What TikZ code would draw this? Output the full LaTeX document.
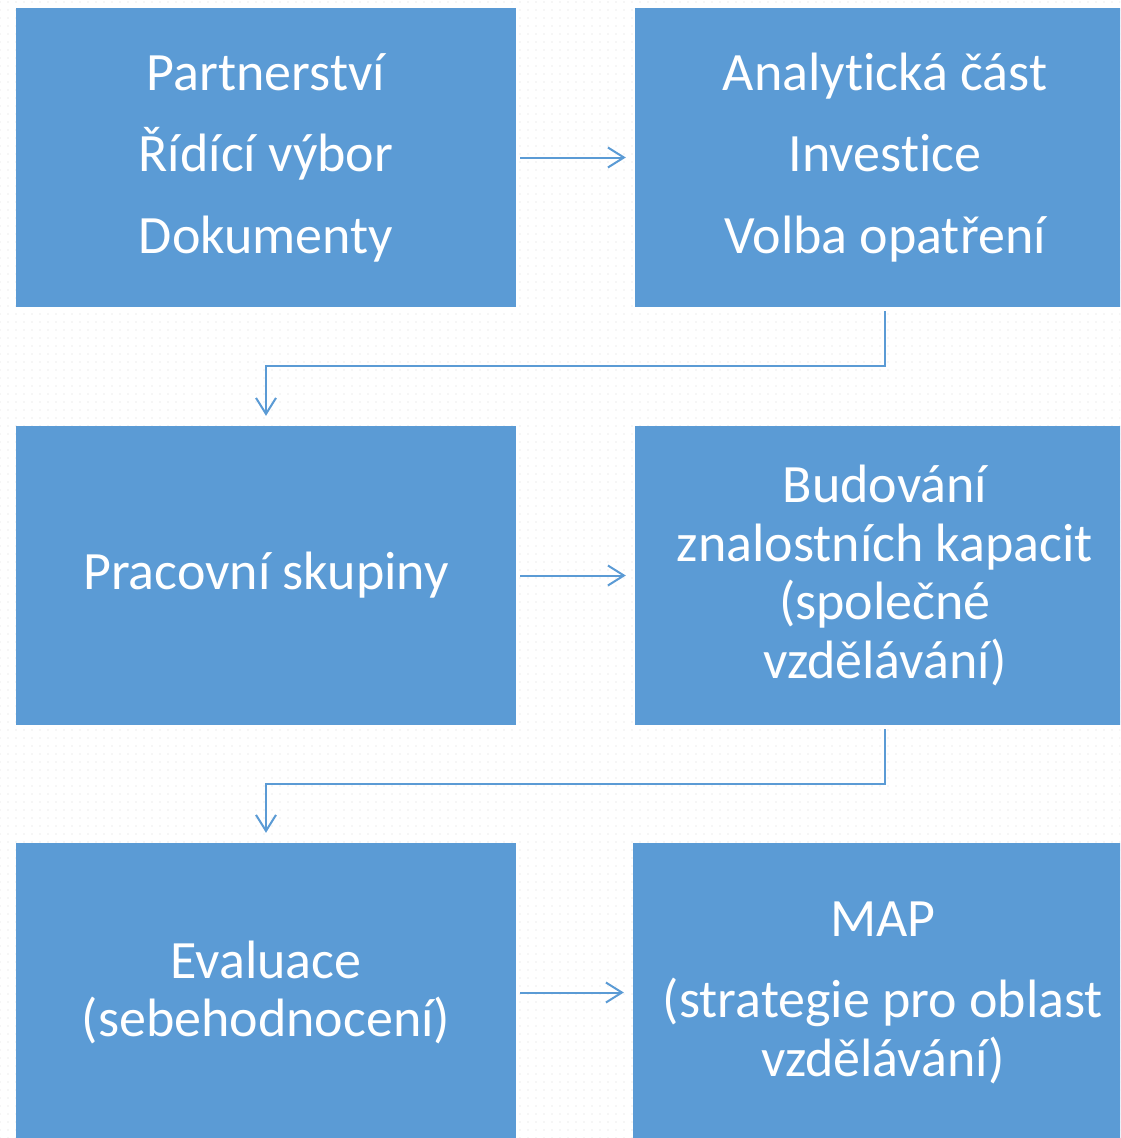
\documentclass[tikz,border=0pt]{standalone}
\usepackage{fontspec}
\setmainfont{Carlito}[Ligatures=CommonOff]
\usetikzlibrary{arrows.meta,patterns.meta}
\definecolor{boxblue}{HTML}{5B9BD5}
\begin{document}
\begin{tikzpicture}[x=1pt,y=-1pt,
  box/.style={fill=boxblue, draw=none, minimum width=500pt, minimum height=299pt,
    inner sep=0pt, text=white, align=center, font=\fontsize{54}{58.5}\selectfont},
  conn/.style={draw=boxblue, line width=2pt, -{Straight Barb[length=16pt,width=20pt,line width=2pt]}},
  dotsbg/.style={pattern={Dots[distance=8pt,radius=0.7pt]}, pattern color=black!14}
]
\clip (0,0) rectangle (1120,1138);
\fill[white] (0,0) rectangle (1120,1138);
\fill[dotsbg] (0,0) rectangle (1120,1138);
\node[box] (b1) at (266,157.5) {Partnerství\\[23pt]Řídící výbor\\[23pt]Dokumenty};
\node[box] (b2) at (885,157.5) {Analytická část\\[23pt]Investice\\[23pt]Volba opatření};
\node[box] (b3) at (266,575.5) {Pracovní skupiny};
\node[box] (b4) at (885,575.5) {Budování\\znalostních kapacit\\(společné\\vzdělávání)};
\node[box] (b5) at (266,992.5) {Evaluace\\(sebehodnocení)};
\node[box] (b6) at (883,992.5) {MAP\\[23pt](strategie pro oblast\\vzdělávání)};
\draw[conn, shorten <=4pt, shorten >=9pt] (b1) -- (b2);
\draw[conn, shorten <=4pt, shorten >=9pt] (b3) -- (b4);
\draw[conn, shorten <=4pt, shorten >=9pt] (b5) -- (b6);
\draw[conn, shorten <=4pt, shorten >=10pt] (b2.south) -- ++(0,59) -| (b3.north);
\draw[conn, shorten <=4pt, shorten >=10pt] (b4.south) -- ++(0,59) -| (b5.north);
\end{tikzpicture}
\end{document}
